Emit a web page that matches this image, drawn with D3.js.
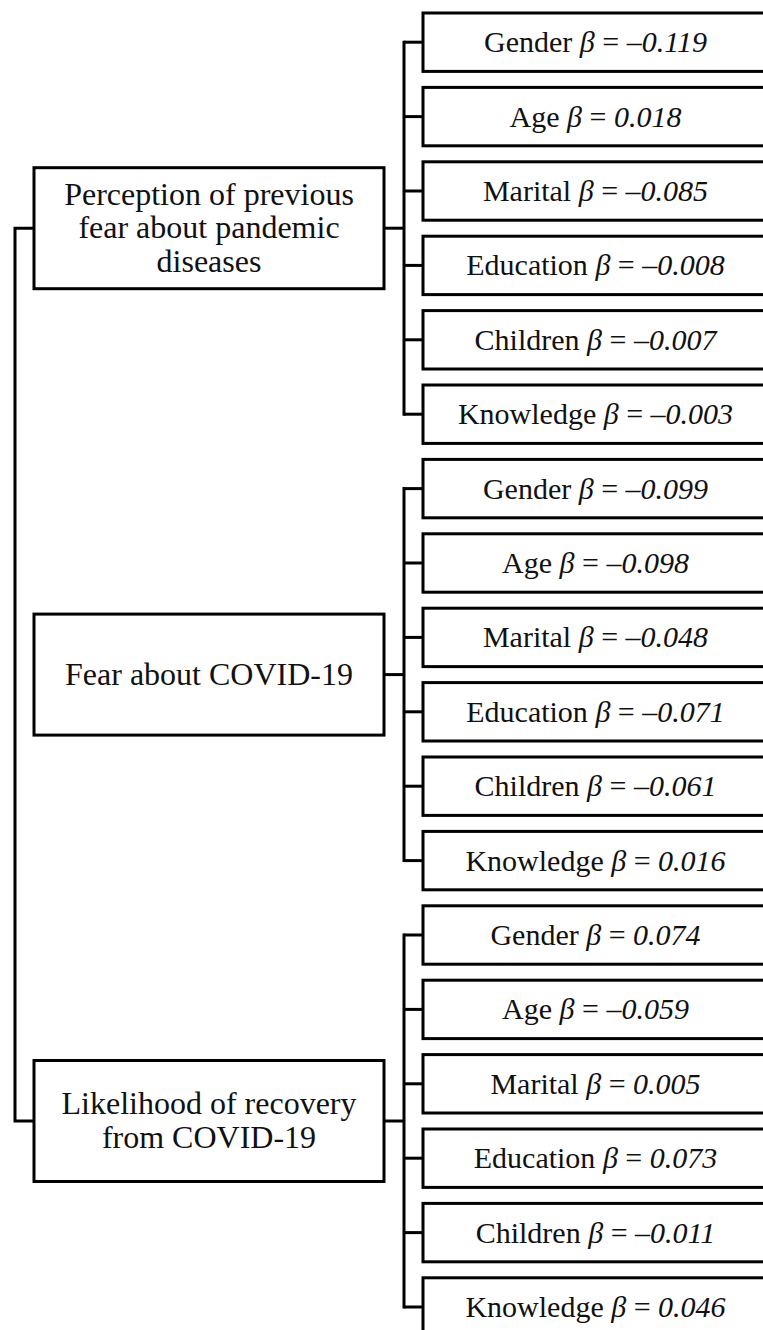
<!DOCTYPE html>
<html lang="en">
<head>
    <meta charset="UTF-8">
    <title>Predictors of fear and recovery</title>
    <script src="https://d3js.org/d3.v7.min.js"></script>
    <style>
        body {
            margin: 0;
            background: #fff;
            overflow: hidden;
        }
        svg {
            display: block;
        }
        .box {
            fill: #fff;
            stroke: #000;
            stroke-width: 3px;
        }
        .link {
            fill: none;
            stroke: #000;
            stroke-width: 3px;
        }
        text {
            font-family: "Palatino Linotype", "Book Antiqua", Palatino, "Liberation Serif", serif;
            fill: #111;
        }
        .label { font-size: 30px; }
        .outcome { font-size: 32px; }
    </style>
</head>
<body>
    <svg id="chart" width="763" height="1330"></svg>

    <script>
        // outcomes (left boxes), one line per entry
        const outcomes = [
            ["Perception of previous", "fear about pandemic", "diseases"],
            ["Fear about COVID-19"],
            ["Likelihood of recovery", "from COVID-19"]
        ];
        const predictors = ["Gender", "Age", "Marital", "Education", "Children", "Knowledge"];

        // standardized betas, same order as predictors
        const betaPrevFear = [-0.119, 0.018, -0.085, -0.008, -0.007, -0.003];
        const betaCovidFear = [-0.099, -0.098, -0.048, -0.071, -0.061, 0.016];
        const betaRecovery = [0.074, -0.059, 0.005, 0.073, -0.011, 0.046];

        const betas = [betaPrevFear, betaCovidFear, betaRecovery];

        const rows = [];
        betas.forEach((arr, g) => {
            arr.forEach((b, i) => rows.push({ id: g + "-" + i, group: g, name: predictors[i], beta: b }));
        });

        const svg = d3.select("#chart");

        const fmt = d3.format(".3f");
        const betaText = b => fmt(b).replace("\u2212", "\u2013").replace("-", "\u2013");

        // vertical layout: one band per predictor box
        const y = d3.scaleBand()
            .domain(rows.map(d => d.id))
            .range([13, 13 + 18 * 74.4 - 16])
            .paddingInner(0.215)
            .paddingOuter(0);

        const xBoxL = 423, xBoxR = 768;   // right boxes
        const xBrk = 404;                  // inner bracket
        const xOutL = 34, xOutR = 384;     // outcome boxes
        const xRoot = 15;                  // outer bracket
        const outH = 121;

        const cy = d => y(d.id) + y.bandwidth() / 2;

        // right boxes
        const rb = svg.append("g").selectAll("g")
            .data(rows)
            .enter().append("g");

        rb.append("rect")
            .attr("class", "box")
            .attr("x", xBoxL)
            .attr("y", d => y(d.id))
            .attr("width", xBoxR - xBoxL)
            .attr("height", y.bandwidth());

        const t = rb.append("text")
            .attr("class", "label")
            .attr("text-anchor", "middle")
            .attr("x", (xBoxL + xBoxR) / 2)
            .attr("y", d => cy(d) + 10);
        t.append("tspan").text(d => d.name + " ");
        t.append("tspan").style("font-style", "italic").text("\u03b2");
        t.append("tspan").text(" = ");
        t.append("tspan").style("font-style", "italic").text(d => betaText(d.beta));

        // stubs to right boxes
        svg.append("g").selectAll("line")
            .data(rows)
            .enter().append("line")
            .attr("class", "link")
            .attr("x1", xBrk).attr("x2", xBoxL)
            .attr("y1", cy).attr("y2", cy);

        // per-outcome groups
        const groups = outcomes.map((lines, g) => {
            const members = rows.filter(r => r.group === g);
            const top = cy(members[0]);
            const bot = cy(members[members.length - 1]);
            return { lines, top, bot, mid: (top + bot) / 2 };
        });

        // inner brackets
        svg.append("g").selectAll("path")
            .data(groups)
            .enter().append("path")
            .attr("class", "link")
            .attr("d", d => `M${xBrk + 1.5},${d.top}H${xBrk}V${d.bot}H${xBrk + 1.5}`);

        svg.append("g").selectAll("line")
            .data(groups)
            .enter().append("line")
            .attr("class", "link")
            .attr("x1", xOutR).attr("x2", xBrk)
            .attr("y1", d => d.mid).attr("y2", d => d.mid);

        // outer bracket
        const first = groups[0].mid, last = groups[groups.length - 1].mid;
        svg.append("path")
            .attr("class", "link")
            .attr("d", `M${xOutL},${first}H${xRoot}V${last}H${xOutL}`);

        // outcome boxes
        const ob = svg.append("g").selectAll("g")
            .data(groups)
            .enter().append("g");

        ob.append("rect")
            .attr("class", "box")
            .attr("x", xOutL)
            .attr("y", d => d.mid - outH / 2)
            .attr("width", xOutR - xOutL)
            .attr("height", outH);

        const lh = 33.5;
        ob.append("text")
            .attr("class", "outcome")
            .attr("text-anchor", "middle")
            .selectAll("tspan")
            .data(d => d.lines.map((l, i) => ({ l, i, n: d.lines.length, mid: d.mid })))
            .enter().append("tspan")
            .attr("x", (xOutL + xOutR) / 2)
            .attr("y", d => d.mid + 10 + (d.i - (d.n - 1) / 2) * lh)
            .text(d => d.l);
    </script>
</body>
</html>
